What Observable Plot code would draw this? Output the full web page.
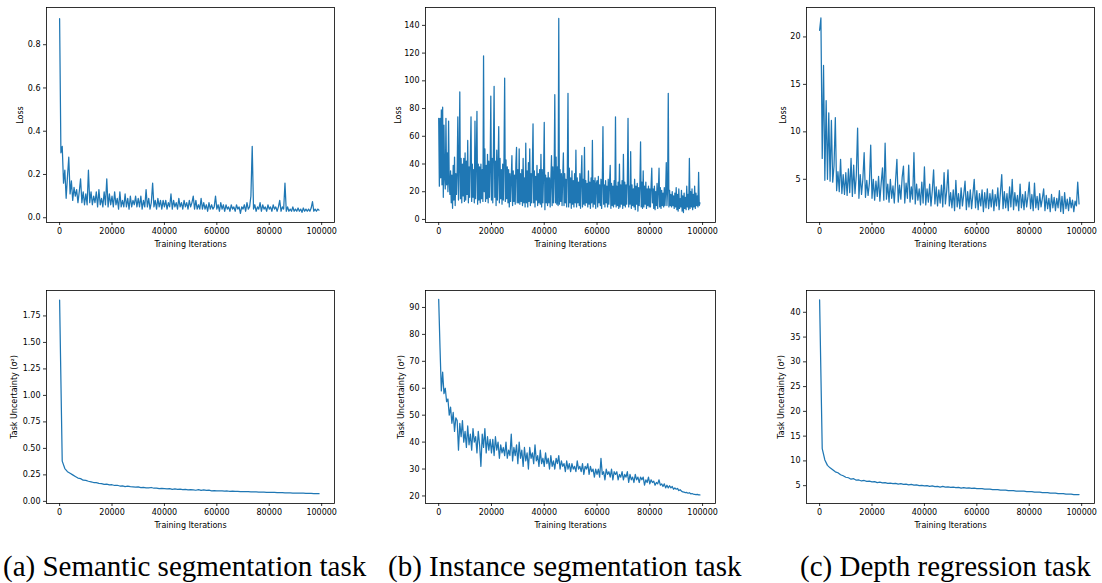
<!DOCTYPE html>
<html><head><meta charset="utf-8">
<script src="https://cdn.jsdelivr.net/npm/d3@7"></script>
<script src="https://cdn.jsdelivr.net/npm/@observablehq/plot@0.6"></script>
<style>
html,body{margin:0;padding:0;background:#fff;}
#root{position:relative;width:1102px;height:583px;overflow:hidden;background:#fff;}
.panel{position:absolute;}
.cap{position:absolute;font-family:"Liberation Serif","Times New Roman",serif;font-size:29px;line-height:1;white-space:nowrap;color:#000;}
</style></head><body><div id="root"></div>
<script>
// ---- data ----
const iterTicks = [0, 20000, 40000, 60000, 80000, 100000];
const xLabel = "Training Iterations";
const captions = ["(a) Semantic segmentation task", "(b) Instance segmentation task", "(c) Depth regression task"];
const lossLabel = "Loss";
const sigmaLabel = "Task Uncertainty (σ²)";

// semantic loss, sampled every 500 iterations (one row = 10000 iterations)
const semLossStep = 500;
const semLoss = [
0.92,0.30,0.33,0.16,0.22,0.09,0.19,0.28,0.11,0.17,0.08,0.14,0.10,0.13,0.07,0.12,0.18,0.07,0.12,0.06,
0.11,0.06,0.22,0.07,0.12,0.06,0.10,0.07,0.12,0.05,0.13,0.06,0.09,0.05,0.12,0.06,0.18,0.05,0.11,0.06,
0.10,0.05,0.12,0.06,0.09,0.04,0.12,0.05,0.08,0.05,0.11,0.05,0.09,0.04,0.10,0.05,0.08,0.06,0.10,0.05,
0.09,0.05,0.10,0.04,0.08,0.05,0.13,0.05,0.09,0.04,0.07,0.16,0.05,0.08,0.04,0.09,0.05,0.08,0.04,0.08,
0.05,0.08,0.04,0.07,0.05,0.11,0.04,0.08,0.05,0.07,0.04,0.09,0.05,0.07,0.04,0.08,0.05,0.07,0.04,0.08,
0.05,0.07,0.10,0.04,0.08,0.04,0.06,0.04,0.09,0.04,0.07,0.04,0.06,0.03,0.07,0.04,0.06,0.04,0.05,0.10,
0.04,0.06,0.03,0.07,0.04,0.06,0.03,0.06,0.04,0.05,0.03,0.06,0.04,0.05,0.03,0.06,0.04,0.05,0.02,0.05,
0.04,0.06,0.03,0.07,0.04,0.05,0.10,0.33,0.04,0.06,0.03,0.05,0.04,0.07,0.03,0.06,0.04,0.05,0.03,0.06,
0.04,0.05,0.03,0.06,0.04,0.05,0.03,0.05,0.08,0.03,0.05,0.04,0.16,0.03,0.05,0.03,0.04,0.03,0.05,0.03,
0.04,0.03,0.045,0.03,0.04,0.025,0.045,0.03,0.04,0.03,0.04,0.03,0.045,0.075,0.03,0.04,0.03,0.04,0.035
];

// instance loss, sampled every 250 iterations (two rows = 10000 iterations)
const instLossStep = 250;
const instLoss = [
73,24,73,30,79,25,81,16,68,30,22,73,25,48,20,71,26,18,35,12,
32,8,39,14,45,10,33,18,35,74,14,38,92,15,44,12,40,17,44,13,
48,14,42,18,57,12,38,16,45,74,13,40,16,36,12,71,15,41,78,11,
40,14,38,12,40,15,36,13,118,20,51,13,39,15,47,12,42,16,38,89,
14,44,12,50,96,16,42,10,50,14,38,67,12,44,15,36,11,40,14,45,
102,13,43,15,38,12,36,9,33,13,30,46,10,35,13,32,11,40,52,12,
36,12,51,11,33,13,36,10,44,12,30,9,55,12,35,9,41,13,51,10,
33,12,38,69,12,35,9,31,14,39,10,33,12,36,11,47,9,36,12,33,
70,7,32,12,30,10,34,12,30,9,28,46,10,38,12,32,90,12,45,11,
38,10,145,11,36,13,33,10,30,48,10,33,12,29,9,35,91,9,37,12,
30,8,35,11,28,9,33,12,50,9,30,12,27,10,33,8,30,46,9,29,
11,52,10,28,12,26,9,35,11,27,8,30,12,57,9,28,11,30,8,26,
28,9,31,12,25,10,29,8,27,67,11,25,9,28,12,24,9,29,11,26,
39,8,26,10,24,9,28,11,74,9,24,10,27,8,40,9,25,11,28,8,
47,10,27,9,25,11,28,73,9,24,11,49,8,25,10,22,9,29,7,24,
11,26,6,23,10,25,56,9,27,8,35,9,24,11,27,8,22,10,24,9,
22,9,25,37,12,22,8,24,7,20,10,26,8,21,37,9,23,8,21,10,
19,9,23,10,20,41,10,22,91,9,21,10,18,9,20,10,17,8,19,9,
23,7,18,6,22,8,15,9,21,6,17,5,19,8,16,7,24,9,18,7,
44,8,20,9,22,7,18,9,24,8,19,10,17,9,34,10,12
];

// depth loss, sampled every 500 iterations
const depthLossStep = 500;
const depthLoss = [
20.7,22,7.2,17,4.9,13.3,5.0,12,4.8,11.2,4.7,6.4,11.5,3.8,5.8,3.7,7.1,3.5,5.5,3.4,
5.7,3.3,6.1,3.6,7.2,3.2,6.5,3.5,5.4,10.4,3.0,5.5,3.4,5.0,7.8,3.1,4.9,3.3,4.6,8.6,
3.0,5.0,2.8,4.8,3.2,5.3,2.7,4.6,6.2,2.8,8.8,2.9,4.5,2.6,5.0,3.0,4.3,2.5,4.9,7.1,
2.6,4.4,2.9,5.2,6.4,2.5,4.6,3.0,6.5,2.6,4.2,2.9,7.8,2.4,4.5,2.8,4.0,2.3,4.7,2.5,
6.3,2.3,4.0,2.6,4.5,2.2,3.8,6.0,2.4,4.2,2.2,3.9,2.5,4.4,2.1,5.7,2.4,3.8,6.0,2.2,
3.6,2.0,3.9,1.7,4.9,2.1,3.5,1.9,4.1,2.2,3.4,4.8,1.8,3.7,2.1,3.9,1.9,3.4,5.0,2.0,
3.8,1.8,3.5,2.2,3.9,1.6,3.6,2.0,4.0,1.9,3.5,2.1,3.9,1.7,3.4,2.2,4.1,1.8,3.6,5.5,
1.9,3.7,2.0,3.5,1.7,4.2,2.1,5.0,1.8,3.6,2.2,3.3,1.7,4.5,2.0,3.4,1.8,3.7,2.1,3.2,
4.7,1.9,3.4,1.7,4.6,2.0,3.2,1.8,3.5,2.1,3.0,4.0,1.7,3.3,1.9,3.0,1.6,3.4,2.0,3.1,
1.7,3.0,2.0,3.8,1.6,3.2,1.4,3.6,1.9,2.9,1.7,3.1,2.0,2.8,1.6,2.7,2.2,4.7,2.4
];

// task uncertainty
const semSigmaStep = 1000;
const semSigma = [
1.90,0.38,0.31,0.28,0.265,0.25,0.235,0.22,0.215,0.20,
0.198,0.19,0.185,0.178,0.176,0.17,0.168,0.16,0.162,0.155,
0.157,0.15,0.152,0.145,0.147,0.14,0.143,0.139,0.137,0.135,
0.136,0.13,0.132,0.128,0.127,0.131,0.124,0.126,0.12,0.122,
0.12,0.118,0.121,0.114,0.117,0.113,0.116,0.11,0.114,0.109,
0.111,0.108,0.105,0.111,0.104,0.109,0.104,0.106,0.10,0.101,
0.10,0.099,0.10,0.096,0.098,0.095,0.096,0.094,0.095,0.092,
0.093,0.092,0.091,0.09,0.09,0.089,0.088,0.087,0.087,0.086,
0.085,0.085,0.084,0.083,0.083,0.082,0.081,0.08,0.08,0.079,
0.079,0.078,0.077,0.077,0.076,0.075,0.075,0.074,0.074,0.073
];

const instSigmaStep = 500;
const instSigma = [
93,75,59,66,58,60,55,56,50,53,47,51,44,49,48,37,47,42,48,40,
44,38,46,39,43,37,45,40,42,36,44,39,31,43,38,45,36,42,37,41,
36,41,35,42,37,40,34,39,36,38,35,40,34,37,35,43,33,38,35,39,
32,40,34,37,31,38,33,36,30,38,34,36,32,39,33,35,31,37,32,34,
31,36,32,34,30,35,31,33,30,34,32,35,30,33,31,32,29,33,30,32,
29,32,30,31,29,33,30,31,29,32,28,31,30,32,28,31,29,30,27,30,
28,30,27,34,28,29,26,30,28,29,27,30,26,29,28,29,26,28,27,29,
26,28,27,29,25,28,26,27,25,28,26,27,25,27,26,27,24,26,25,27,
24.5,26,25,25.5,24,25,24.5,26,24,24.5,23.5,24.5,23,24,23,23.8,23,23.5,22.5,23,
22.5,22.8,22,22.3,21.8,21.5,21.4,21.2,21.3,21.0,21.2,20.8,20.9,20.7,20.6,20.5,20.6,20.4,20.4
];

const depthSigmaStep = 1000;
const depthSigma = [
42.5,12.5,10.2,9.1,8.6,8.2,7.8,7.6,7.2,7.0,
6.7,6.6,6.3,6.4,6.1,6.15,5.95,6.05,5.85,5.9,
5.75,5.8,5.6,5.7,5.55,5.6,5.45,5.5,5.4,5.45,
5.3,5.4,5.25,5.3,5.15,5.25,5.1,5.15,5.0,5.05,
4.95,5.0,4.85,4.95,4.8,4.85,4.7,4.85,4.7,4.75,
4.65,4.7,4.6,4.65,4.5,4.6,4.5,4.55,4.45,4.5,
4.4,4.4,4.4,4.3,4.3,4.3,4.2,4.2,4.2,4.1,
4.1,4.1,4.0,4.0,4.0,3.9,3.9,3.9,3.9,3.8,
3.8,3.8,3.7,3.7,3.7,3.6,3.6,3.6,3.5,3.5,
3.5,3.4,3.4,3.4,3.3,3.3,3.3,3.2,3.2,3.2
];

const semLossTicks = [0, 0.2, 0.4, 0.6, 0.8];
const instLossTicks = [0, 20, 40, 60, 80, 100, 120, 140];
const depthLossTicks = [5, 10, 15, 20];
const semSigmaTicks = [0, 0.25, 0.5, 0.75, 1.0, 1.25, 1.5, 1.75];
const instSigmaTicks = [20, 30, 40, 50, 60, 70, 80, 90];
const depthSigmaTicks = [5, 10, 15, 20, 25, 30, 35, 40];

// ---- drawing ----
const root = document.getElementById("root");
const xDomain = [-5000, 104900];
const cols = [
  {left: 0, width: 367, ml: 46, mr: 33},
  {left: 367, width: 367, ml: 58, mr: 19},
  {left: 734, width: 368, ml: 72, mr: 8}
];
const rows = [
  {top: 0, height: 260, mt: 7, mb: 38},
  {top: 283, height: 250, mt: 7, mb: 30}
];

function panel(values, step, yDomain, yTicks, yFmt, yLabel, yLabelOffset, col, row) {
  const c = cols[col], r = rows[row];
  const chart = Plot.plot({
    width: c.width, height: r.height,
    marginLeft: c.ml, marginRight: c.mr, marginTop: r.mt, marginBottom: r.mb,
    style: {fontFamily: "'DejaVu Sans', sans-serif", fontSize: "8px", background: "white", color: "black", overflow: "visible"},
    x: {domain: xDomain},
    y: {domain: yDomain},
    marks: [
      Plot.line(values, {x: (d, i) => i * step, y: d => d, stroke: "#1f77b4", strokeWidth: 1.25, clip: true}),
      Plot.frame({stroke: "black", strokeWidth: 0.8}),
      Plot.axisX({ticks: iterTicks, tickFormat: d => String(d), tickSize: 3, tickPadding: 3, strokeWidth: 0.8,
        label: xLabel, labelAnchor: "center", labelArrow: "none", labelOffset: 24}),
      Plot.axisY({ticks: yTicks, tickFormat: yFmt, tickSize: 3, tickPadding: 3, strokeWidth: 0.8,
        label: yLabel, labelAnchor: "center", labelArrow: "none", labelOffset: yLabelOffset})
    ]
  });
  chart.classList.add("panel");
  chart.style.left = c.left + "px";
  chart.style.top = r.top + "px";
  chart.style.position = "absolute";
  root.appendChild(chart);
}

const f1 = d => d.toFixed(1), f2 = d => d.toFixed(2), f0 = d => String(d);
panel(semLoss, semLossStep, [-0.022, 0.972], semLossTicks, f1, lossLabel, 29, 0, 0);
panel(instLoss, instLossStep, [-2.2, 152.9], instLossTicks, f0, lossLabel, 30, 1, 0);
panel(depthLoss, depthLossStep, [0.45, 23.1], depthLossTicks, f0, lossLabel, 26, 2, 0);
panel(semSigma, semSigmaStep, [-0.02, 1.99], semSigmaTicks, f2, sigmaLabel, 35, 0, 1);
panel(instSigma, instSigmaStep, [17.2, 96.3], instSigmaTicks, f0, sigmaLabel, 27, 1, 1);
panel(depthSigma, depthSigmaStep, [1.4, 44.4], depthSigmaTicks, f0, sigmaLabel, 28, 2, 1);

const capLeft = [3, 388, 800];
captions.forEach((t, i) => {
  const d = document.createElement("div");
  d.className = "cap";
  d.textContent = t;
  d.style.left = capLeft[i] + "px";
  d.style.top = "552px";
  root.appendChild(d);
});
</script></body></html>
